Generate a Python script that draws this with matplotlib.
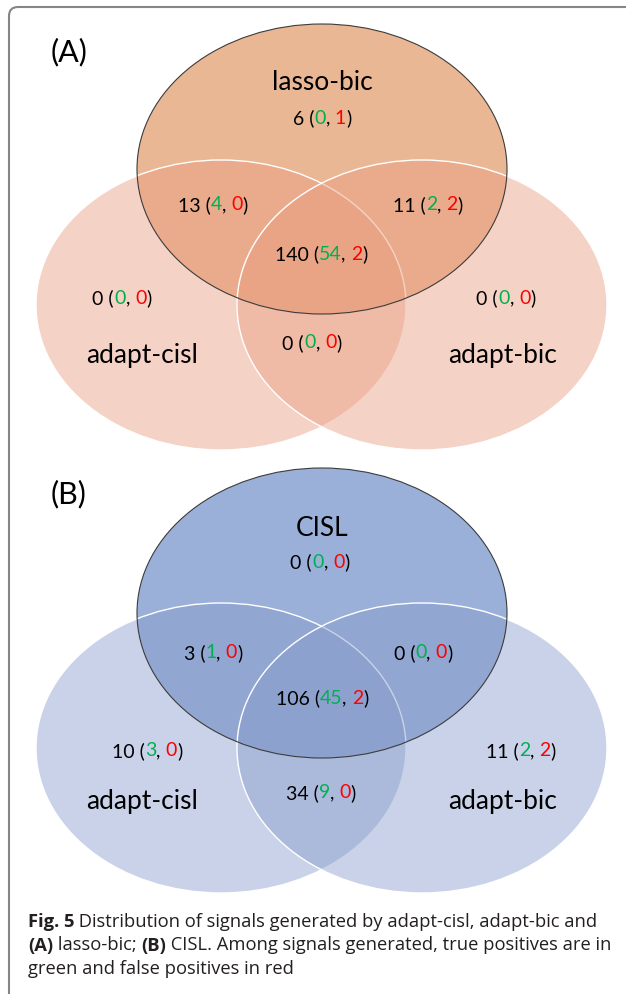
import matplotlib
matplotlib.use('Agg')
import matplotlib.pyplot as plt
from matplotlib.patches import Ellipse, FancyBboxPatch

# region order: top only, top&left, top&right, all three, left only, right only, left&right
regions = ['100', '110', '101', '111', '010', '001', '011']

names_a = ['lasso-bic', 'adapt-cisl', 'adapt-bic']
total_a = [6, 13, 11, 140, 0, 0, 0]
tp_a = [0, 4, 2, 54, 0, 0, 0]
fp_a = [1, 0, 2, 2, 0, 0, 0]

names_b = ['CISL', 'adapt-cisl', 'adapt-bic']
total_b = [0, 3, 0, 106, 10, 11, 34]
tp_b = [0, 1, 0, 45, 3, 2, 9]
fp_b = [0, 0, 0, 2, 0, 2, 0]

caption = [
    [('Fig. 5', 'bold'), (' Distribution of signals generated by adapt-cisl, adapt-bic and', 'normal')],
    [('(A)', 'bold'), (' lasso-bic; ', 'normal'), ('(B)', 'bold'),
     (' CISL. Among signals generated, true positives are in', 'normal')],
    [('green and false positives in red', 'normal')],
]

GREEN = '#00b050'
RED = '#ff0000'
FONT = 'Lato'
CAP_FONT = 'Open Sans'

W, H = 626, 994
fig = plt.figure(figsize=(W / 100, H / 100), dpi=100)
ax = fig.add_axes([0, 0, 1, 1])
ax.set_xlim(0, W)
ax.set_ylim(H, 0)
ax.axis('off')
rend = fig.canvas.get_renderer()


def text_width(s, size, family, weight='normal'):
    # sentinels so that leading / trailing spaces are counted
    t1 = ax.text(0, 0, '|' + s + '|', fontsize=size, family=family, weight=weight)
    t2 = ax.text(0, 0, '||', fontsize=size, family=family, weight=weight)
    w = t1.get_window_extent(rend).width - t2.get_window_extent(rend).width
    t1.remove()
    t2.remove()
    return w


def pieces(x, y, parts, size, family, ha='center', va='center'):
    # parts: (text, color, weight)
    widths = [text_width(s, size, family, wt) for s, c, wt in parts]
    x0 = x - sum(widths) / 2 if ha == 'center' else x
    for (s, c, wt), w in zip(parts, widths):
        ax.text(x0, y, s, fontsize=size, family=family, weight=wt, color=c,
                ha='left', va=va, zorder=5)
        x0 += w


def count_label(x, y, n, tp, fp):
    parts = [(f'{n} (', 'black', 'normal'), (str(tp), GREEN, 'normal'),
             (', ', 'black', 'normal'), (str(fp), RED, 'normal'),
             (')', 'black', 'normal')]
    pieces(x, y, parts, 14, FONT)


def venn(cy_top, cy_low, top_col, low_col, names, total, tp, fp,
         lab_pos, name_pos, panel, panel_y):
    a, b = 185, 145
    ax.add_patch(Ellipse((322, cy_top), 2 * a, 2 * b, facecolor=top_col,
                         edgecolor='none', zorder=1))
    for cx in (221, 422):
        ax.add_patch(Ellipse((cx, cy_low), 2 * a, 2 * b, facecolor=low_col,
                             edgecolor='white', lw=1.0, zorder=2))
    ax.add_patch(Ellipse((322, cy_top), 2 * a, 2 * b, facecolor='none',
                         edgecolor='#3c3c3c', lw=0.8, zorder=3))
    for (nx, ny), nm in zip(name_pos, names):
        ax.text(nx, ny, nm, fontsize=19, family=FONT, ha='center',
                va='center', zorder=5)
    for r, n, t, f in zip(regions, total, tp, fp):
        lx, ly = lab_pos[r]
        count_label(lx, ly, n, t, f)
    ax.text(51, panel_y, panel, fontsize=22, family=FONT, ha='left',
            va='center')


# frame
ax.add_patch(FancyBboxPatch((9, 7), 700, 1100,
                            boxstyle='round,pad=0,rounding_size=9',
                            facecolor='none', edgecolor='#858585', lw=1.5,
                            zorder=0))

pos_a = {'100': (322, 118), '110': (213, 205), '101': (428, 205),
         '111': (321, 254), '010': (122, 298), '001': (506, 298),
         '011': (312, 343)}
venn(169, 305, '#e9b794', (0.913, 0.616, 0.506, 0.45),
     names_a, total_a, tp_a, fp_a, pos_a,
     [(322, 83), (142, 356), (503, 356)], '(A)', 52)

pos_b = {'100': (320, 562), '110': (213, 653), '101': (423, 653),
         '111': (322, 698), '010': (147, 751), '001': (521, 751),
         '011': (321, 793)}
venn(613, 748, '#9bb0d8', (0.533, 0.612, 0.8, 0.45),
     names_b, total_b, tp_b, fp_b, pos_b,
     [(322, 528), (142, 801), (503, 801)], '(B)', 494)

# caption
for i, line in enumerate(caption):
    parts = [(s, '#231f20', wt) for s, wt in line]
    pieces(28, 927 + 23.5 * i, parts, 13.2, CAP_FONT, ha='left', va='baseline')

fig.savefig('out.png', dpi=100)
